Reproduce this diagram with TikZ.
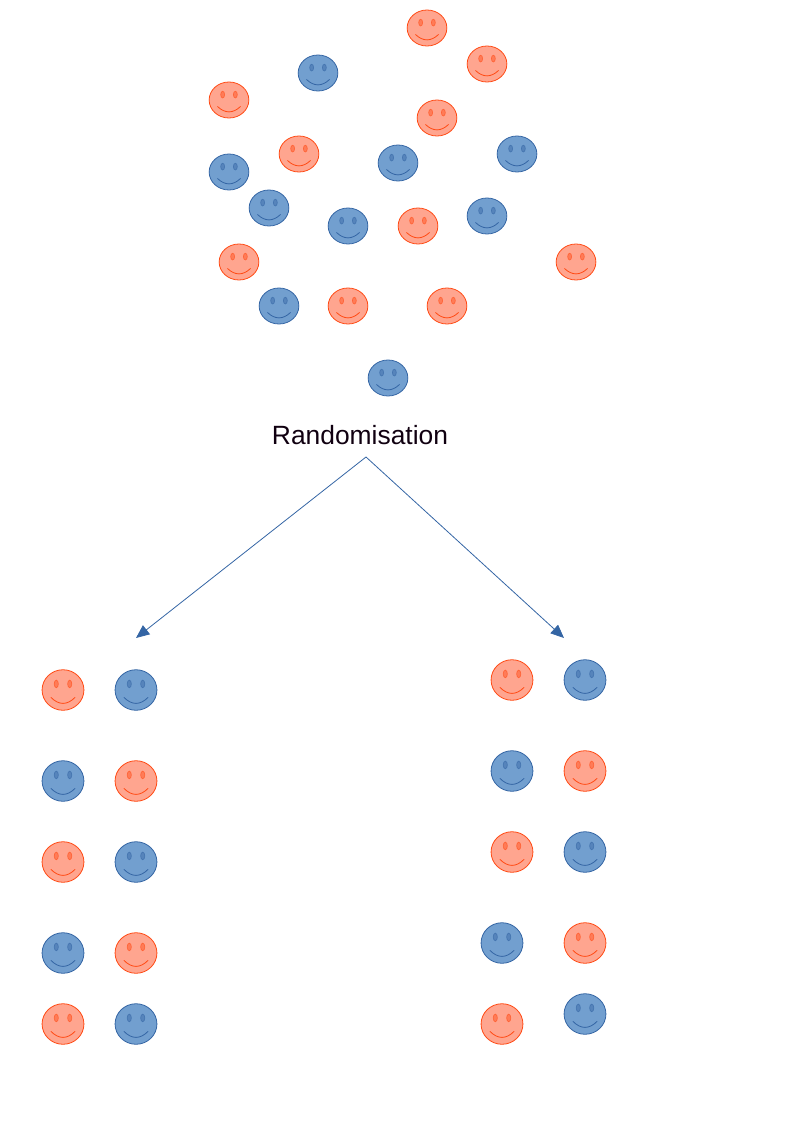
\documentclass[tikz,border=0pt]{standalone}
\usepackage{fontspec}
\setmainfont{Liberation Sans}
\usetikzlibrary{shapes.geometric}
\usetikzlibrary{arrows.meta}

\definecolor{redFill}{HTML}{FFA58F}
\definecolor{redLine}{HTML}{FF4A14}
\definecolor{blueFill}{HTML}{729FCF}
\definecolor{blueLine}{HTML}{3465A4}
\definecolor{textColor}{HTML}{100010}

\tikzset{
  face/.style 2 args = {ellipse, draw, inner sep = 0pt, line width = 0.6pt,
    minimum width = #1, minimum height = #2,
    path picture = {
      \begin{scope}[shift = {(path picture bounding box.center)}, x = #1/2, y = -#2/2]
        \filldraw[fill opacity = 0.45, draw opacity = 0.6, line width = 0.5pt, color = .] (-0.32, -0.3) ellipse [x radius = 0.1, y radius = 0.19];
        \filldraw[fill opacity = 0.45, draw opacity = 0.6, line width = 0.5pt, color = .] (0.32, -0.3) ellipse [x radius = 0.1, y radius = 0.19];
        \draw[line width = 0.6pt, color = .] (-0.58, 0.36) .. controls (-0.2, 0.76) and (0.2, 0.76) .. (0.58, 0.36);
      \end{scope}
    }},
  smallFace/.style = {face = {29.8pt}{27pt}},
  largeFace/.style = {face = {31.4pt}{30.4pt}},
  redFace/.style = {color = redLine, fill = redFill},
  blueFace/.style = {color = blueLine, fill = blueFill}
}

\begin{document}
\begin{tikzpicture}[x = 0.75pt, y = -0.75pt]
        \useasboundingbox (0, 0) rectangle (794, 1123);

        % the crowd
        \node[smallFace, redFace] (crowdA) at (427, 28) {};
        \node[smallFace, redFace] (crowdB) at (487, 64) {};
        \node[smallFace, blueFace] (crowdC) at (318, 73) {};
        \node[smallFace, redFace] (crowdD) at (229, 100) {};
        \node[smallFace, redFace] (crowdE) at (437, 118) {};
        \node[smallFace, redFace] (crowdF) at (299, 154) {};
        \node[smallFace, blueFace] (crowdG) at (398, 163) {};
        \node[smallFace, blueFace] (crowdH) at (517, 154) {};
        \node[smallFace, blueFace] (crowdI) at (229, 172) {};
        \node[smallFace, blueFace] (crowdJ) at (269, 208) {};
        \node[smallFace, blueFace] (crowdK) at (348, 226) {};
        \node[smallFace, redFace] (crowdL) at (418, 226) {};
        \node[smallFace, blueFace] (crowdM) at (487, 216) {};
        \node[smallFace, redFace] (crowdN) at (239, 262) {};
        \node[smallFace, redFace] (crowdO) at (576, 262) {};
        \node[smallFace, blueFace] (crowdP) at (279, 306) {};
        \node[smallFace, redFace] (crowdQ) at (348, 306) {};
        \node[smallFace, redFace] (crowdR) at (447, 306) {};
        \node[smallFace, blueFace] (crowdS) at (388, 378) {};

        \node[color = textColor, font = \fontsize{19.8pt}{24pt}\selectfont] (randNode) at (360, 435) {Randomisation};

        \coordinate (topPoint) at (366, 457);
        \coordinate (leftPoint) at (136, 638);
        \coordinate (rightPoint) at (564, 638);
        \draw[color = blueLine, line width = 0.6pt] (topPoint) edge[-{Triangle[length = 10pt, width = 8.5pt]}] (leftPoint);
        \draw[color = blueLine, line width = 0.6pt] (topPoint) edge[-{Triangle[length = 10pt, width = 8.5pt]}] (rightPoint);

        % left group
        \node[largeFace, redFace] (leftA) at (63, 690) {};
        \node[largeFace, blueFace] (leftB) at (136, 690) {};
        \node[largeFace, blueFace] (leftC) at (63, 781) {};
        \node[largeFace, redFace] (leftD) at (136, 781) {};
        \node[largeFace, redFace] (leftE) at (63, 862) {};
        \node[largeFace, blueFace] (leftF) at (136, 862) {};
        \node[largeFace, blueFace] (leftG) at (63, 953) {};
        \node[largeFace, redFace] (leftH) at (136, 953) {};
        \node[largeFace, redFace] (leftI) at (63, 1024) {};
        \node[largeFace, blueFace] (leftJ) at (136, 1024) {};

        % right group
        \node[largeFace, redFace] (rightA) at (512, 680) {};
        \node[largeFace, blueFace] (rightB) at (585, 680) {};
        \node[largeFace, blueFace] (rightC) at (512, 771) {};
        \node[largeFace, redFace] (rightD) at (585, 771) {};
        \node[largeFace, redFace] (rightE) at (512, 852) {};
        \node[largeFace, blueFace] (rightF) at (585, 852) {};
        \node[largeFace, blueFace] (rightG) at (502, 943) {};
        \node[largeFace, redFace] (rightH) at (585, 943) {};
        \node[largeFace, redFace] (rightI) at (502, 1024) {};
        \node[largeFace, blueFace] (rightJ) at (585, 1014) {};
      \end{tikzpicture}
\end{document}
